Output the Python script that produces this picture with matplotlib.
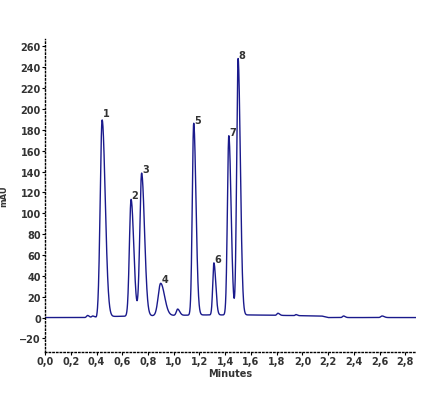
import numpy as np
import matplotlib
matplotlib.use("Agg")
import matplotlib.pyplot as plt

# Peaks
peak_labels = ["1", "2", "3", "4", "5", "6", "7", "8"]
peak_times = [0.443, 0.668, 0.750, 0.898, 1.155, 1.312, 1.428, 1.500]
peak_heights = [190, 112, 137, 31, 184, 50, 172, 246]
peak_widths = [0.015, 0.013, 0.014, 0.019, 0.011, 0.009, 0.011, 0.011]

# Minor bumps (time, height, width)
minor_times = [0.33, 0.37, 1.03, 1.81, 1.95, 2.32, 2.62]
minor_heights = [2, 1.5, 6, 2, 1, 1.5, 1.5]
minor_widths = [0.008, 0.008, 0.010, 0.008, 0.006, 0.008, 0.010]

# Baseline level points (time, mAU)
base_t = [0.0, 0.39, 0.40, 0.50, 1.20, 1.60, 2.15, 2.20, 2.92]
base_y = [0.0, 0.0, -1.5, 1.0, 2.5, 2.5, 1.5, 0.0, 0.0]

t = np.linspace(0, 2.885, 3000)
y = np.interp(t, base_t, base_y)
for tc, h, w in zip(peak_times + minor_times, peak_heights + minor_heights,
                    peak_widths + minor_widths):
    # slight tailing
    s = np.where(t < tc, w, w * 1.6)
    y += h * np.exp(-0.5 * ((t - tc) / s) ** 2)

fig = plt.figure(figsize=(4.26, 4.02), dpi=100)
ax = fig.add_axes([0.106, 0.122, 0.871, 0.778])
ax.plot(t, y, color="#1a1a8c", lw=1.0)

for lab, tc, h in zip(peak_labels, peak_times, peak_heights):
    ax.text(tc + 0.005, h + 1, lab, fontsize=7, fontweight="bold",
            color="#333333", ha="left", va="bottom")

ax.set_xlim(0, 2.885)
ax.set_ylim(-33, 267)
ax.set_xticks(np.arange(0, 2.81, 0.2))
ax.set_xticklabels([f"{v:.1f}".replace(".", ",") for v in np.arange(0, 2.81, 0.2)])
ax.set_yticks(np.arange(-20, 261, 20))
for sp in ["top", "right"]:
    ax.spines[sp].set_visible(False)
for sp in ["left", "bottom"]:
    ax.spines[sp].set_linestyle(":")
    ax.spines[sp].set_linewidth(1.0)
ax.tick_params(labelsize=7, length=2, pad=1)
for lbl in ax.get_xticklabels() + ax.get_yticklabels():
    lbl.set_fontweight("bold")
    lbl.set_color("#333333")
ax.set_xlabel("Minutes", fontsize=7, fontweight="bold", labelpad=1, color="#333333")
ax.set_ylabel("mAU", fontsize=6, fontweight="bold", labelpad=8, color="#333333")

fig.savefig("out.png", dpi=100)
